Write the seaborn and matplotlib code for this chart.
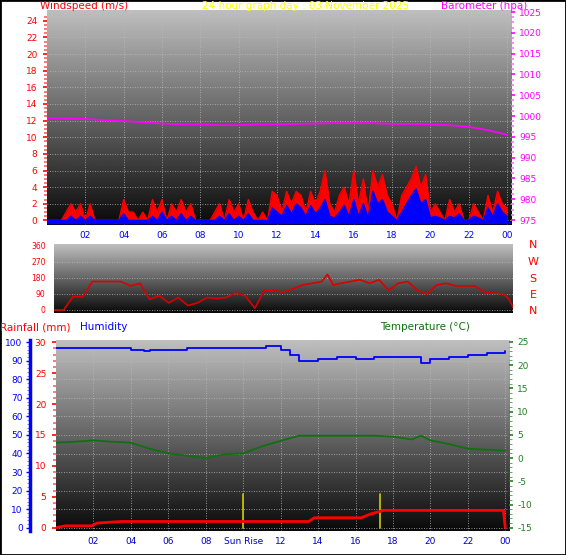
import numpy as np
import pandas as pd
import matplotlib
matplotlib.use("Agg")
import matplotlib.pyplot as plt
import seaborn as sns

sns.set_style("white")
plt.rcParams['font.family'] = ['DejaVu Sans']
plt.rcParams['axes.unicode_minus'] = False

# ---------------- data ----------------
gust = [0,0,0,0, 1,2,1,2, 0,2,0,0, 0,0,0,0, 2.5,1,1,0, 1,0,2.5,1,
        2.5,0,2,1, 2.5,1,2,0, 0,0,0,1, 2,0,2.5,1, 2,0,2.5,1, 0,1,0,3.5,
        3,1,3.5,2, 3.5,3,1,3.5, 2,3.5,6,2, 1,3,4,2, 6,2,5,1, 6,4,5.5,3,
        2,0,3,4, 5,6.5,4,5.5, 1,2,1,0, 2.5,1,2,0, 0,2,1,0, 3,1,3.5,2, 1.5]
avg = [0,0,0,0, 0,0.5,0,0.5, 0,0.5,0,0, 0,0,0,0, 0.8,0,0,0, 0,0,0.5,0,
       1,0,0.5,0, 0.8,0,0.5,0, 0,0,0,0, 0.5,0,0.8,0, 0.5,0,0.8,0, 0,0,0,1.5,
       1,0.5,1.8,0.8, 2,1.5,0.5,1.8, 0.8,1.5,2.5,0.5, 0.3,1,1.8,0.5, 2.5,0.5,2,0.3, 3.5,2,2.5,1,
       0.5,0,1,2, 3,3.8,2,2.5, 0.3,0.5,0.3,0, 0.5,0.3,0.8,0, 0,0.5,0.3,0, 1.5,0.5,2,1, 0.5]
wind_t = [i * 0.25 for i in range(len(gust))]

press_t = list(range(25))
pressure = [999.5,999.4,999.3,999.0,998.8,998.5,998.2,998.0,998.0,997.8,997.8,998.0,998.0,
            998.1,998.2,998.3,998.3,998.3,998.1,998.1,998.0,997.8,997.4,996.6,995.5]

dir_t = [0,0.5,1,1.5,2,3,3.5,4,4.5,5,5.5,6,6.5,7,7.5,8,8.5,9,9.5,10,10.5,11,11.5,12,12.5,13,13.5,
         14,14.3,14.6,15,15.5,16,16.5,17,17.5,18,18.5,19,19.5,20,20.5,21,21.5,22,22.5,23,23.5,23.8,24]
direction = [0,0,75,75,160,160,160,135,150,60,80,40,70,25,40,70,65,70,95,80,10,110,110,100,120,140,150,
             160,200,140,150,160,170,150,170,110,150,160,110,90,140,150,135,135,135,100,95,90,60,15]

hum_t = [0,1,2,3,4,4.7,5,6,7,8,9,10,11,11.2,12,12.5,13,13.5,14,15,16,17,18,19,19.5,20,21,22,23,24]
humidity = [97,97,97,97,96,95,96,96,97,97,97,97,97,98,96,93,90,90,91,92,91,92,92,92,89,91,92,93,94,95]

temp_t = [0,1,2,3,4,5,6,7,8,9,10,11,12,13,14,15,16,17,18,19,19.5,20,21,22,23,24]
temperature = [3.3,3.5,3.8,3.5,3.3,2,1,0.5,0,0.8,1,2.5,3.7,4.8,4.8,4.8,4.8,4.8,4.6,4,4.8,3.8,3,2,1.8,1.6]

rain_t = [0,0.5,1.9,2.2,3.5,13.5,13.8,16.3,16.8,17.5,23.9,24.0]
rain = [0,0.3,0.3,0.75,1.0,1.0,1.6,1.6,2.2,2.8,2.8,0]

sun_events = [10.0, 17.3]
tick_hours = [2,4,6,8,10,12,14,16,18,20,22,24]
tick_labels = ["02","04","06","08","10","12","14","16","18","20","22","00"]

# ---------------- figure ----------------
W, H = 566, 555
fig = plt.figure(figsize=(W/100, H/100), dpi=100)
fig.patch.set_facecolor("white")

def box(l, t, r, b):
    return [l/W, 1 - b/H, (r-l)/W, (b-t)/H]

grad = np.linspace(0, 1, 256).reshape(-1, 1)
def bg(ax):
    ax.imshow(grad, cmap="gray", vmin=-0.05, vmax=1.35, aspect="auto",
              extent=[0, 1, 0, 1], transform=ax.transAxes, zorder=0, origin="lower")

FS = 6.5
def grid(ax, xs, ys):
    for x in xs:
        ax.axvline(x, color="#bbbbbb", lw=0.6, ls=(0, (1, 2)), zorder=1)
    for y in ys:
        ax.axhline(y, color="#bbbbbb", lw=0.6, ls=(0, (1, 2)), zorder=1)

def clean(ax):
    for s in ax.spines.values():
        s.set_visible(False)

# ---- panel 1: wind & pressure ----
ax1 = fig.add_axes(box(47, 10, 511, 225))
bg(ax1)
ax1.set_xlim(0, 24.2); ax1.set_ylim(-0.55, 25.3)
grid(ax1, tick_hours, range(0, 25, 2))
ax1.fill_between(wind_t, 0, gust, color="#ff0000", zorder=2, lw=0)
sns.lineplot(x=wind_t, y=gust, ax=ax1, color="#ff0000", lw=1.0, zorder=2)
ax1.fill_between(wind_t, -0.4, avg, color="#0000ff", zorder=3, lw=0)
sns.lineplot(x=wind_t, y=avg, ax=ax1, color="#0000ff", lw=1.0, zorder=3)
ax1.axhline(-0.3, color="#0000ff", lw=1.2, zorder=3)
ax1.set_yticks(range(0, 25, 2))
ax1.set_yticks(np.arange(0, 25, 0.5), minor=True)
ax1.tick_params(axis="y", colors="#ff0000", labelsize=FS, length=3, width=1.2, pad=4)
ax1.tick_params(axis="y", which="minor", colors="#ff6060", length=2, width=1.2)
ax1.set_xticks(tick_hours); ax1.set_xticklabels(tick_labels)
ax1.tick_params(axis="x", colors="#0000ff", labelsize=FS, length=0, pad=4)
ax1.set_ylabel(""); clean(ax1)
ax1p = ax1.twinx()
ax1p.set_ylim(973.8, 1025.5)
sns.lineplot(x=press_t, y=pressure, ax=ax1p, color="#ff00ff", lw=1.3)
ax1p.set_yticks(range(975, 1026, 5))
ax1p.set_yticks(np.arange(975, 1026, 1.25), minor=True)
ax1p.tick_params(axis="y", colors="#ff00ff", labelsize=FS, length=3, width=1.2, pad=3)
ax1p.tick_params(axis="y", which="minor", colors="#ff70ff", length=2, width=1.2)
ax1p.set_ylabel(""); clean(ax1p)

# ---- panel 2: wind direction ----
ax2 = fig.add_axes(box(54, 244, 513, 313))
bg(ax2)
ax2.set_xlim(0, 24); ax2.set_ylim(-17, 371)
grid(ax2, [], [0, 90, 180, 270, 360])
sns.lineplot(x=dir_t, y=direction, ax=ax2, color="#dd0000", lw=1.2)
ax2.set_yticks([0, 90, 180, 270, 360])
ax2.set_yticks(range(0, 361, 15), minor=True)
ax2.set_xticks([])
ax2.tick_params(axis="y", colors="#ff0000", labelsize=5.5, length=3, width=1.2, pad=3)
ax2.tick_params(axis="y", which="minor", colors="#ff6060", length=2, width=1.2)
ax2.set_ylabel(""); clean(ax2)

# ---- panel 3: rain / humidity / temperature ----
ax3 = fig.add_axes(box(56, 340, 509, 531))
bg(ax3)
ax3.set_xlim(0, 24.2); ax3.set_ylim(-0.54, 30.37)
grid(ax3, tick_hours, range(0, 31, 3))
for s in sun_events:
    ax3.plot([s, s], [0, 5.5], color="#cccc00", lw=1.2, zorder=4)
sns.lineplot(x=rain_t, y=rain, ax=ax3, color="#ff0000", lw=2, zorder=5)
ax3.set_yticks(range(0, 31, 5))
ax3.set_yticks(np.arange(0, 31, 1), minor=True)
ax3.tick_params(axis="y", colors="#ff0000", labelsize=FS, length=3, width=1.2, pad=4)
ax3.tick_params(axis="y", which="minor", colors="#ff6060", length=2, width=1.2)
ax3.set_xticks(tick_hours)
lab3 = list(tick_labels); lab3[4] = "Sun Rise"
ax3.set_xticklabels(lab3)
ax3.tick_params(axis="x", colors="#0000cc", labelsize=FS, length=0, pad=4)
ax3.set_ylabel(""); clean(ax3)

axh = ax3.twinx()
axh.set_ylim(-1.8, 101.2)
sns.lineplot(x=hum_t, y=humidity, ax=axh, color="#0000ff", lw=1.3, drawstyle="steps-post")
axh.yaxis.tick_left()
clean(axh)
axh.spines["left"].set_visible(True)
axh.spines["left"].set_position(("outward", 19))
axh.spines["left"].set_color("#0000ff"); axh.spines["left"].set_linewidth(2.5)
axh.set_yticks(range(0, 101, 10))
axh.set_yticks(range(0, 101, 2), minor=True)
axh.tick_params(axis="y", colors="#0000ff", labelsize=FS, length=3, width=1, pad=2)
axh.tick_params(axis="y", which="minor", colors="#6060ff", length=2)
axh.set_ylabel("")

axt = ax3.twinx()
axt.set_ylim(-15.7, 25.4)
sns.lineplot(x=temp_t, y=temperature, ax=axt, color="#107010", lw=1.3)
axt.set_yticks(range(-15, 26, 5))
axt.set_yticks(range(-15, 26, 1), minor=True)
axt.tick_params(axis="y", colors="#208020", labelsize=FS, length=3, width=1.2, pad=3)
axt.tick_params(axis="y", which="minor", colors="#40a040", length=2)
axt.set_ylabel(""); clean(axt)

# ---- texts ----
def t(x, y, s, c, ha="left", fs=7.5):
    fig.text(x/W, 1 - y/H, s, color=c, ha=ha, va="center", fontsize=fs)
t(40, 6, "Windspeed (m/s)", "#ff0000")
t(305, 6, "24 hour graph day : 03 November 2025", "#ffff00", ha="center")
t(527, 6, "Barometer (hpa)", "#ff00ff", ha="right")
for y, s in zip([245, 262, 279, 295, 311], ["N", "W", "S", "E", "N"]):
    t(533, y, s, "#ff0000", ha="center", fs=8)
t(0, 327, "Rainfall (mm)", "#ff0000")
t(80, 327, "Humidity", "#0000ff")
t(380, 327, "Temperature (°C)", "#107010")

fig.add_artist(plt.Rectangle((0, 0), 1, 1, transform=fig.transFigure,
                             fill=False, ec="black", lw=2))
fig.savefig("out.png", dpi=100)
